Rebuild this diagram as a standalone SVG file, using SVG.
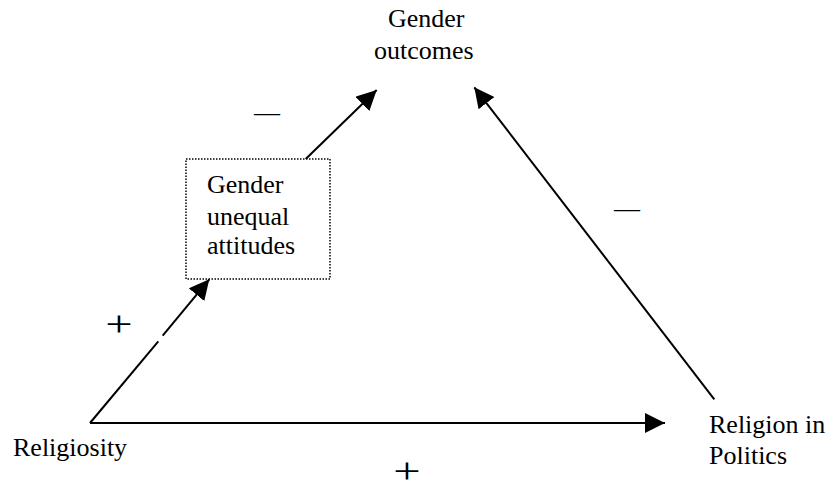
<svg xmlns="http://www.w3.org/2000/svg" width="833" height="492" viewBox="0 0 833 492">
<style>
text{font-family:"Liberation Serif","Times New Roman",serif;font-size:26px;fill:#000}
.sign{font-size:36px}
.conn{stroke:#000;stroke-width:2;fill:none}
.box{fill:#fff;stroke:#000;stroke-width:1.5;stroke-dasharray:1.5 1.5}
</style>
<defs>
<marker id="ah" markerUnits="userSpaceOnUse" markerWidth="21" markerHeight="21" refX="20" refY="10" orient="auto" viewBox="0 0 21 21">
<path d="M0,0 L20,10 L0,20 z" fill="#000"/>
</marker>
</defs>
<rect width="833" height="492" fill="#fff"/>
<g id="connectors">
<line class="conn" x1="90" y1="423" x2="158.3" y2="341.3"/>
<line class="conn" x1="162.7" y1="335.7" x2="209.3" y2="279.3" marker-end="url(#ah)"/>
<line class="conn" x1="305.7" y1="159" x2="376.7" y2="90" marker-end="url(#ah)"/>
<line class="conn" x1="714.3" y1="399.3" x2="474.3" y2="87.3" stroke-width="1.6" marker-end="url(#ah)"/>
<line class="conn" x1="90" y1="423" x2="665" y2="423" marker-end="url(#ah)"/>
</g>
<g id="gender-outcomes">
<text x="388" y="27">Gender</text>
<text x="374" y="59">outcomes</text>
</g>
<g id="gender-unequal-attitudes">
<rect class="box" x="186" y="159" width="144" height="120"/>
<text x="207" y="193">Gender</text>
<text x="207" y="225">unequal</text>
<text x="207" y="254">attitudes</text>
</g>
<g id="religiosity">
<text x="13" y="456">Religiosity</text>
</g>
<g id="religion-in-politics">
<text x="709" y="433">Religion in</text>
<text x="709" y="464">Politics</text>
</g>
<g id="labels">
<text x="254" y="121">—</text>
<text x="614" y="217">—</text>
<text class="sign" transform="translate(119,335.5) scale(1.35,1)" text-anchor="middle">+</text>
<text class="sign" transform="translate(407,483) scale(1.35,1)" text-anchor="middle">+</text>
</g>
</svg>
